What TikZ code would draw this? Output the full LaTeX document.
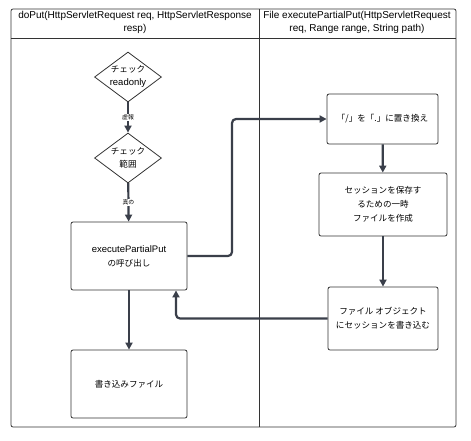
\documentclass[tikz,border=0pt]{standalone}
\usepackage{fontspec}
\setmainfont{Liberation Sans}
\newfontfamily\jp[Scale=0.9]{Noto Sans CJK JP}
\usetikzlibrary{shapes.geometric,arrows.meta}
\definecolor{linec}{HTML}{3A3F4A}
\definecolor{framec}{HTML}{333333}

\begin{document}
\begin{tikzpicture}[x=1pt, y=-1pt,
        box/.style={draw=framec, line width=0.8pt, rounded corners=2pt, align=center, inner sep=0pt, font=\fontsize{9.5}{14}\selectfont},
        check/.style={draw=framec, line width=0.8pt, shape=diamond, aspect=1.34, inner sep=0pt, minimum width=67pt, minimum height=50pt, align=center, font=\fontsize{9.5}{13}\selectfont},
        flow/.style={draw=linec, line width=2.2pt, -{Triangle[length=7pt,width=7pt]}},
        cond/.style={fill=white, inner sep=1pt, font=\jp\fontsize{6.5}{7}\selectfont},
        lane/.style={align=center, font=\fontsize{10}{13}\selectfont}]
        \useasboundingbox (0,0) rectangle (471,440);
        % swimlanes
        \draw[framec, line width=0.8pt, rounded corners=2pt] (11,9) rectangle (456,427);
        \draw[framec, line width=0.8pt] (11,38) -- (456,38);
        \draw[framec, line width=0.8pt] (259,9) -- (259,427);
        \node[lane] (laneL) at (135,22) {doPut(HttpServletRequest req, HttpServletResponse\\resp)};
        \node[lane] (laneR) at (357,22) {File executePartialPut(HttpServletRequest\\req, Range range, String path)};
        % doPut
        \node[check] (chkRead) at (128,77) {{\jp チェック}\\readonly};
        \node[check] (chkRange) at (128,158) {\jp チェック\\\jp 範囲};
        \node[box, minimum width=116pt, minimum height=68pt] (callPut) at (129,256) {executePartialPut\\{\jp の呼び出し}};
        \node[box, minimum width=116pt, minimum height=68pt] (writeFile) at (129,384) {\jp 書き込みファイル};
        % executePartialPut
        \node[box, minimum width=111pt, minimum height=50pt] (replace) at (382.5,119) {\jp 「/」を「.」に置き換え};
        \node[box, minimum width=128pt, minimum height=63pt] (tmpFile) at (383,204.5) {\jp セッションを保存す\\\jp るための一時\\\jp ファイルを作成};
        \node[box, minimum width=110pt, minimum height=63pt] (saveSess) at (383,318.5) {\jp ファイル オブジェクト\\\jp にセッションを書き込む};
        % connectors
        \draw[flow] (chkRead) -- node[cond] {虚報} (chkRange);
        \draw[flow] (chkRange) -- node[cond] {真の} (callPut);
        \coordinate (bendR) at (232,256);
        \draw[flow, rounded corners=4pt] (callPut.east) -- (bendR) |- (replace.west);
        \draw[flow] (replace) -- (tmpFile);
        \draw[flow] (tmpFile) -- (saveSess);
        \draw[flow, rounded corners=4pt] (saveSess.west) -| ([xshift=47pt]callPut.south);
        \draw[flow] (callPut) -- (writeFile);
    \end{tikzpicture}
\end{document}
